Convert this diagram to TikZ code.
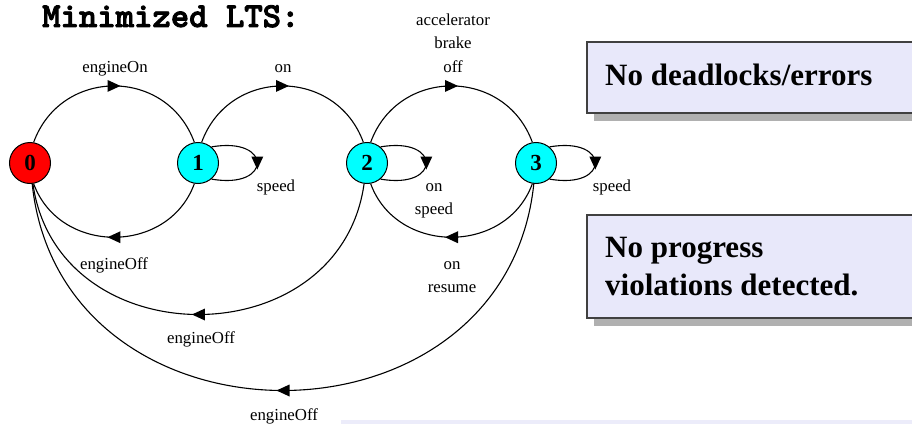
\documentclass[tikz,border=0pt]{standalone}
\usepackage{fontspec}
\setmainfont{Liberation Serif}
\newfontface\titlefont[FakeBold=2.5]{lmmonolt10-bold.otf}
\usetikzlibrary{decorations.markings}
\definecolor{boxfill}{RGB}{232,232,250}
\definecolor{boxshadow}{RGB}{176,176,176}
\definecolor{boxline}{RGB}{64,64,64}
\definecolor{stripfill}{RGB}{236,236,250}
\definecolor{statered}{RGB}{255,0,0}
\definecolor{statecyan}{RGB}{0,255,255}
\begin{document}
\begin{tikzpicture}[x=1pt,y=1pt,
  st/.style={circle,draw=black,line width=1pt,minimum size=41pt,inner sep=0pt,
             font=\fontsize{23}{23}\selectfont\bfseries},
  edge/.style={line width=1.1pt,
    postaction={decorate,decoration={markings,
      mark=at position 0.5 with {\fill (-6.5pt,-6pt) -- (6.5pt,0pt) -- (-6.5pt,6pt) -- cycle;}}}},
  lbl/.style={font=\fontsize{16.8}{20}\selectfont,inner sep=0pt,anchor=base},
  msg/.style={font=\fontsize{31}{38}\selectfont\bfseries,inner sep=0pt,anchor=base west},
  msgbox/.style={fill=boxfill,draw=boxline,line width=1.2pt},
]
\useasboundingbox (0,0) rectangle (912,424);

% title
\node[font=\titlefont\fontsize{35}{35}\selectfont,anchor=base west,inner sep=0pt] (title) at (42,397) {Minimized LTS:};

% states
\node[st,fill=statered]  (n0) at (30,261)  {0};
\node[st,fill=statecyan] (n1) at (198,261) {1};
\node[st,fill=statecyan] (n2) at (367,261) {2};
\node[st,fill=statecyan] (n3) at (536,261) {3};

% upper transitions
\draw[edge] (n0.80) .. controls +(70:80) and +(110:80) .. (n1.100);
\draw[edge] (n1.80) .. controls +(70:80) and +(110:80) .. (n2.100);
\draw[edge] (n2.80) .. controls +(70:80) and +(110:80) .. (n3.100);

% lower transitions
\draw[edge] (n1.260) .. controls +(250:76) and +(290:76) .. (n0.280);
\draw[edge] (n3.260) .. controls +(250:76) and +(290:76) .. (n2.280);
\draw[edge] (n2.262) .. controls +(262:176) and +(278:176) .. (n0.278);
\draw[edge] (n3.264) .. controls +(264:277) and +(276:277) .. (n0.276);

% self loops
\draw[edge] (n1.50) .. controls +(10:62) and +(-10:62) .. (n1.-50);
\draw[edge] (n2.50) .. controls +(10:62) and +(-10:62) .. (n2.-50);
\draw[edge] (n3.50) .. controls +(10:62) and +(-10:62) .. (n3.-50);

% labels
\node[lbl] (l01) at (115,352) {engineOn};
\node[lbl] (l12) at (283,352) {on};
\node[lbl] (l23a) at (453,398) {accelerator};
\node[lbl] (l23b) at (453,375) {brake};
\node[lbl] (l23c) at (453,352) {off};
\node[lbl] (l11) at (276,233) {speed};
\node[lbl] (l22a) at (434,233) {on};
\node[lbl] (l22b) at (434,210) {speed};
\node[lbl] (l33) at (612,233) {speed};
\node[lbl] (l10) at (114,155) {engineOff};
\node[lbl] (l32a) at (452,155) {on};
\node[lbl] (l32b) at (452,132) {resume};
\node[lbl] (l20) at (201,81) {engineOff};
\node[lbl] (l30) at (284,4) {engineOff};

% message boxes
\fill[boxshadow] (594,303) rectangle (932,374);
\draw[msgbox] (587,311) rectangle (925,382);
\node[msg] (m1) at (605,338) {No deadlocks/errors};

\fill[boxshadow] (594,98) rectangle (932,201);
\draw[msgbox] (587,106) rectangle (925,209);
\node[msg] (m2a) at (605,166.5) {No progress};
\node[msg] (m2b) at (605,129) {violations detected.};

% partially visible box at the bottom
\fill[stripfill] (341,0) rectangle (925,4);
\end{tikzpicture}
\end{document}
